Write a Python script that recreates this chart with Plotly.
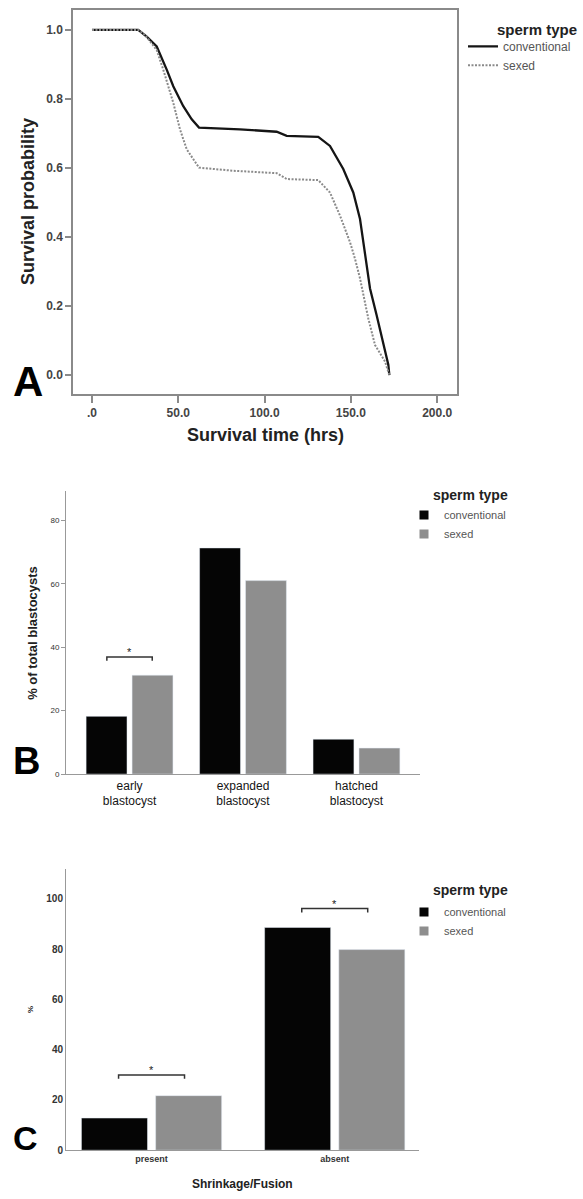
import plotly.graph_objects as go

W, H = 583, 1199
FONT = "Liberation Sans, Arial, sans-serif"

# ---------------- Panel A: survival curves ----------------
conv_time = [0, 26.8, 31.7, 37.5, 43.3, 47.1, 52.9, 57.8, 62.0, 85.7, 107.0, 112.8, 131.1,
             137.9, 145.6, 151.4, 155.3, 157.0, 158.8, 161.1, 164.9, 168.8, 171.7, 172.3]
conv_surv = [1.0, 1.0, 0.981, 0.952, 0.885, 0.837, 0.779, 0.741, 0.717, 0.712, 0.705, 0.693, 0.690,
             0.664, 0.597, 0.529, 0.452, 0.395, 0.323, 0.251, 0.174, 0.087, 0.030, 0.0]
sexed_time = [0, 26.8, 30.7, 37.5, 41.3, 47.1, 51.0, 54.9, 62.0, 81.9, 107.0, 112.8, 131.1,
              137.9, 143.7, 149.5, 152.4, 155.3, 160.1, 164.0, 169.8, 171.7, 172.3]
sexed_surv = [1.0, 1.0, 0.986, 0.942, 0.885, 0.789, 0.712, 0.654, 0.601, 0.592, 0.585, 0.568, 0.565,
              0.529, 0.462, 0.385, 0.337, 0.280, 0.164, 0.087, 0.039, 0.011, 0.0]
a_xticks = [0, 50, 100, 150, 200]
a_xticklabels = [".0", "50.0", "100.0", "150.0", "200.0"]
a_yticks = [0.0, 0.2, 0.4, 0.6, 0.8, 1.0]

# ---------------- Panel B: blastocyst stages ----------------
b_categories = ["early<br>blastocyst", "expanded<br>blastocyst", "hatched<br>blastocyst"]
b_conv = [18.2, 71.3, 11.0]
b_sexed = [31.2, 61.0, 8.2]
b_yticks = [0, 20, 40, 60, 80]
b_sig = [(0, 36.9)]  # (category index, bracket height)

# ---------------- Panel C: shrinkage/fusion ----------------
c_categories = ["present", "absent"]
c_conv = [12.8, 88.6]
c_sexed = [21.7, 79.8]
c_yticks = [0, 20, 40, 60, 80, 100]
c_sig = [(0, 29.9), (1, 96.1)]

BLACK = "#050505"
GRAY = "#8e8e8e"
AXC = "#8a8a8a"


def px(x):
    return x / W


def py(y):
    return 1 - y / H


fig = go.Figure()

# Panel A traces
fig.add_trace(go.Scatter(x=conv_time, y=conv_surv, mode="lines", name="conventional",
                         line=dict(color="#151515", width=2.3), xaxis="x", yaxis="y",
                         legend="legend"))
fig.add_trace(go.Scatter(x=sexed_time, y=sexed_surv, mode="lines", name="sexed",
                         line=dict(color="#8a8a8a", width=2, dash="2px,1.5px"),
                         xaxis="x", yaxis="y", legend="legend"))

# Panel B bars
fig.add_trace(go.Bar(x=b_categories, y=b_conv, name="conventional", marker_color=BLACK,
                     xaxis="x2", yaxis="y2", showlegend=False))
fig.add_trace(go.Bar(x=b_categories, y=b_sexed, name="sexed", marker_color=GRAY,
                     xaxis="x2", yaxis="y2", showlegend=False))
# legend entries for B
fig.add_trace(go.Scatter(x=[None], y=[None], mode="markers", name="conventional",
                         marker=dict(symbol="square", size=9, color=BLACK),
                         xaxis="x2", yaxis="y2", legend="legend2"))
fig.add_trace(go.Scatter(x=[None], y=[None], mode="markers", name="sexed",
                         marker=dict(symbol="square", size=9, color=GRAY),
                         xaxis="x2", yaxis="y2", legend="legend2"))

# Panel C bars
fig.add_trace(go.Bar(x=c_categories, y=c_conv, name="conventional", marker_color=BLACK,
                     xaxis="x3", yaxis="y3", showlegend=False))
fig.add_trace(go.Bar(x=c_categories, y=c_sexed, name="sexed", marker_color=GRAY,
                     xaxis="x3", yaxis="y3", showlegend=False))
fig.add_trace(go.Scatter(x=[None], y=[None], mode="markers", name="conventional",
                         marker=dict(symbol="square", size=9, color=BLACK),
                         xaxis="x3", yaxis="y3", legend="legend3"))
fig.add_trace(go.Scatter(x=[None], y=[None], mode="markers", name="sexed",
                         marker=dict(symbol="square", size=9, color=GRAY),
                         xaxis="x3", yaxis="y3", legend="legend3"))

shapes = []
annotations = []


# significance brackets
def add_bracket(xref, yref, cat, h, half, tick):
    x0, x1 = cat - half, cat + half
    shapes.append(dict(type="path", xref=xref, yref=yref,
                       path=f"M {x0} {h - tick} L {x0} {h} L {x1} {h} L {x1} {h - tick}",
                       line=dict(color="#333", width=1.5)))
    annotations.append(dict(xref=xref, yref=yref, x=cat, y=h, text="*", showarrow=False,
                            yanchor="bottom", yshift=-3,
                            font=dict(family=FONT, size=11, color="#222")))


for cat, h in b_sig:
    add_bracket("x2", "y2", cat, h, 0.2, 1.2)
for cat, h in c_sig:
    add_bracket("x3", "y3", cat, h, 0.18, 1.5)


# axis titles & panel letters
def ann(text, x, y, size, bold=True, angle=0, color="#222", xanchor="center", yanchor="middle"):
    annotations.append(dict(xref="paper", yref="paper", x=px(x), y=py(y), text=text,
                            showarrow=False, textangle=angle, xanchor=xanchor, yanchor=yanchor,
                            font=dict(family=FONT, size=size, color=color,
                                      weight="bold" if bold else "normal")))


ann("Survival probability", 28, 203, 18, angle=-90)
ann("Survival time (hrs)", 265, 437, 18)
ann("% of total blastocysts", 33, 636, 13, angle=-90)
ann("%", 31, 1015, 8, angle=-90)
ann("Shrinkage/Fusion", 242, 1190, 12)
ann("A", 11, 383, 42, color="#000", xanchor="left")
ann("B", 11, 765, 38, color="#000", xanchor="left")
ann("C", 11, 1144, 34, color="#000", xanchor="left")
ann("sperm type", 495, 30, 15, xanchor="left")
ann("sperm type", 431, 497, 14, xanchor="left")
ann("sperm type", 431, 894, 14, xanchor="left")

tick_font_a = dict(family=FONT, size=12, color="#444", weight="bold")

fig.update_layout(
    width=W, height=H, autosize=False,
    margin=dict(l=0, r=0, t=0, b=0),
    paper_bgcolor="white", plot_bgcolor="white",
    font=dict(family=FONT, color="#333"),
    barmode="group",
    shapes=shapes, annotations=annotations,
    xaxis=dict(domain=[px(73), px(457)], anchor="y", range=[-11, 211.5],
               tickvals=a_xticks, ticktext=a_xticklabels, ticks="outside", ticklen=7,
               tickcolor=AXC, tickwidth=1.5, showline=True, mirror=True, linecolor=AXC,
               linewidth=1.5, showgrid=False, zeroline=False, tickfont=tick_font_a),
    yaxis=dict(domain=[py(396), py(10)], anchor="x", range=[-0.055, 1.058],
               tickvals=a_yticks, tickformat=".1f", ticks="outside", ticklen=6,
               tickcolor=AXC, tickwidth=1.5, showline=True, mirror=True, linecolor=AXC,
               linewidth=1.5, showgrid=False, zeroline=False, tickfont=tick_font_a),
    xaxis2=dict(domain=[px(66), px(420)], anchor="y2", range=[-0.56, 2.56],
                showline=True, linecolor="#999", linewidth=1, ticks="", showgrid=False,
                tickfont=dict(family=FONT, size=12, color="#151515")),
    yaxis2=dict(domain=[py(778), py(493)], anchor="x2", range=[0, 89.4],
                tickvals=b_yticks, ticks="outside", ticklen=4, tickcolor="#999",
                showline=True, linecolor="#999", linewidth=1, showgrid=False, zeroline=False,
                tickfont=dict(family=FONT, size=8, color="#333")),
    xaxis3=dict(domain=[px(66), px(419)], anchor="y3", range=[-0.467, 1.46],
                showline=True, linecolor="#999", linewidth=1, ticks="", showgrid=False,
                tickfont=dict(family=FONT, size=9, color="#333", weight="bold")),
    yaxis3=dict(domain=[py(1156), py(873)], anchor="x3", range=[0, 112],
                tickvals=c_yticks, ticks="", showline=True, linecolor="#999", linewidth=1,
                showgrid=False, zeroline=False,
                tickfont=dict(family=FONT, size=10, color="#333", weight="bold")),
    bargap=0.19, bargroupgap=0.11,
    legend=dict(x=px(463), y=py(32), xanchor="left", yanchor="top", bgcolor="rgba(0,0,0,0)",
                font=dict(family=FONT, size=12, color="#555"), tracegroupgap=0),
    legend2=dict(x=px(404), y=py(503), xanchor="left", yanchor="top", bgcolor="rgba(0,0,0,0)",
                 font=dict(family=FONT, size=11, color="#555")),
    legend3=dict(x=px(404), y=py(902), xanchor="left", yanchor="top", bgcolor="rgba(0,0,0,0)",
                 font=dict(family=FONT, size=11, color="#555")),
)

fig.write_html("out.html", config={"displayModeBar": False},
               post_script="document.body.style.margin='0px';")
